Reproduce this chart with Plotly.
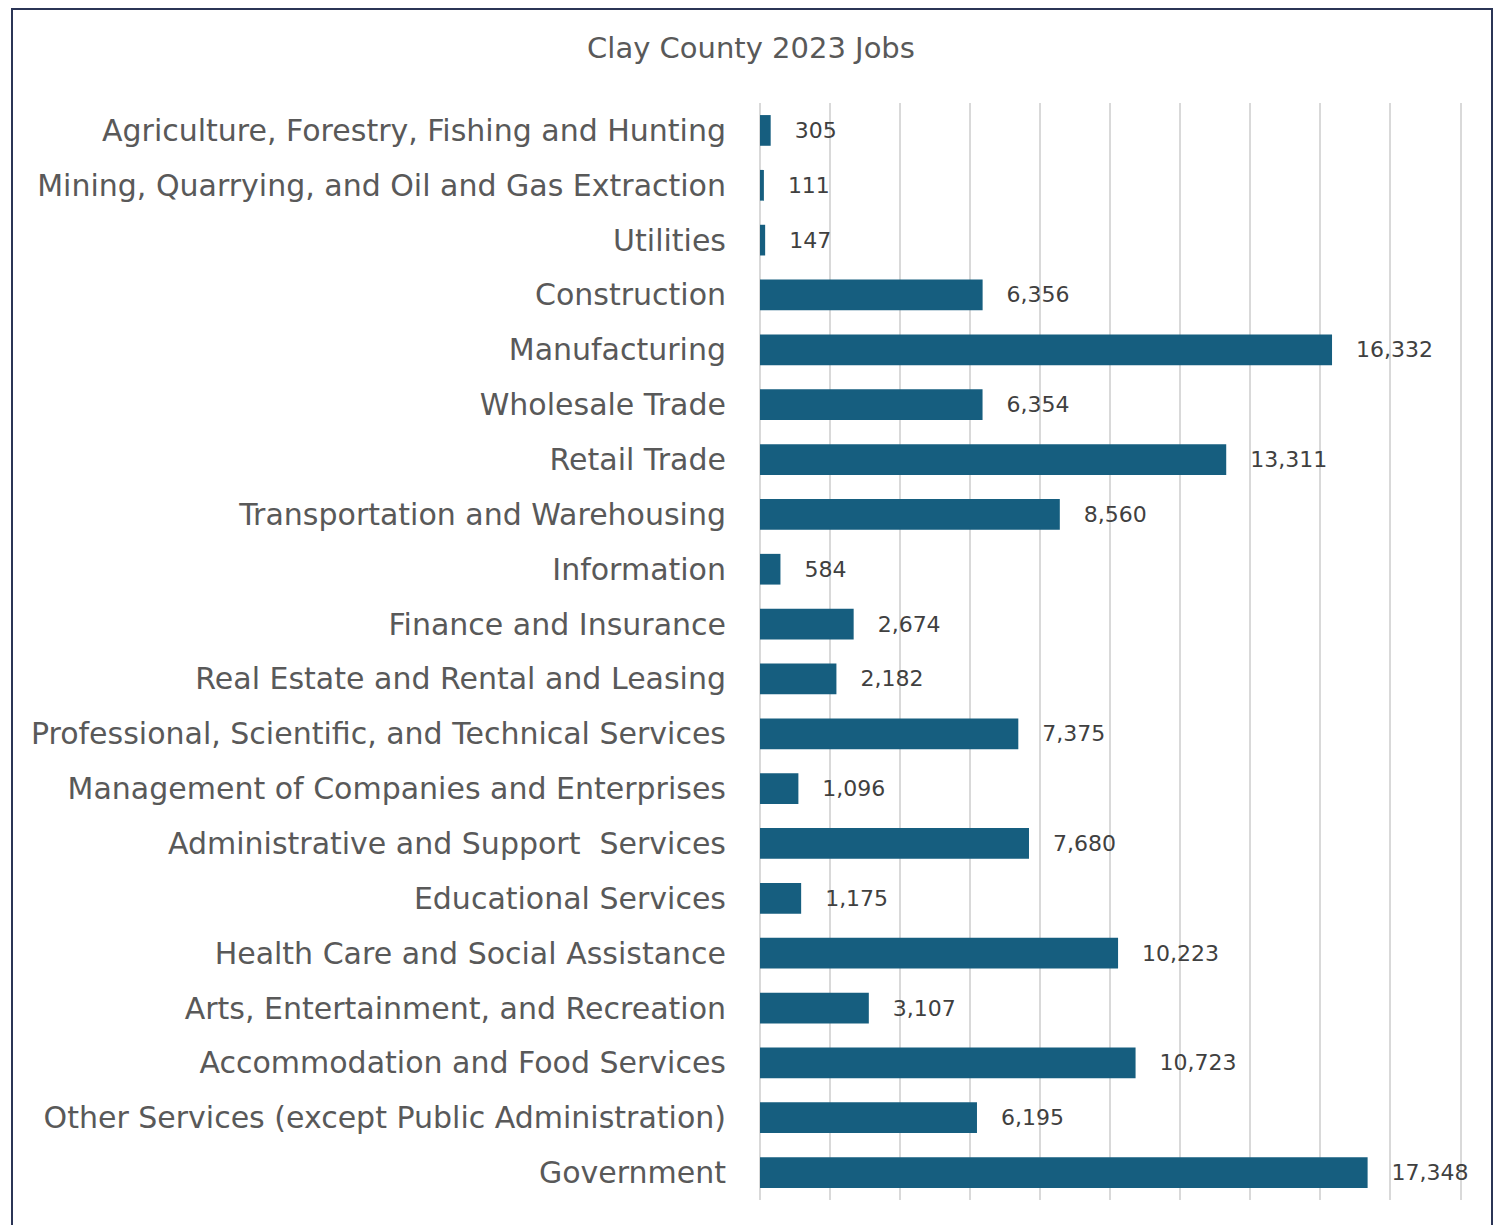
import plotly.graph_objects as go

industries = [
    "Agriculture, Forestry, Fishing and Hunting",
    "Mining, Quarrying, and Oil and Gas Extraction",
    "Utilities",
    "Construction",
    "Manufacturing",
    "Wholesale Trade",
    "Retail Trade",
    "Transportation and Warehousing",
    "Information",
    "Finance and Insurance",
    "Real Estate and Rental and Leasing",
    "Professional, Scientific, and Technical Services",
    "Management of Companies and Enterprises",
    "Administrative and Support  Services",
    "Educational Services",
    "Health Care and Social Assistance",
    "Arts, Entertainment, and Recreation",
    "Accommodation and Food Services",
    "Other Services (except Public Administration)",
    "Government",
]
jobs = [305, 111, 147, 6356, 16332, 6354, 13311, 8560, 584, 2674,
        2182, 7375, 1096, 7680, 1175, 10223, 3107, 10723, 6195, 17348]

# page has an 8px body margin, so figure coords = page coords - 8
OFF = 8
W, H = 1501 - OFF, 1225 - OFF
L, R, T, B = 760 - OFF, 37, 103 - OFF, 25
pw, ph = W - L - R, H - T - B


def px_to_paper(x, y):
    return (x - OFF - L) / pw, (H - B - (y - OFF)) / ph


fig = go.Figure(go.Bar(
    x=jobs, y=industries, orientation="h",
    marker=dict(color="#165E7F", line=dict(width=0)),
    texttemplate="\u00a0\u00a0\u00a0%{x:,}", textposition="outside",
    textfont=dict(size=22, color="#404040"),
    cliponaxis=False, width=0.56,
))

# outer frame around the whole chart (top edge clamped to the figure)
x0, y0 = px_to_paper(12, OFF + 1)
x1, y1 = px_to_paper(1492, 1240)
fig.add_shape(type="rect", xref="paper", yref="paper", x0=x0, y0=y1, x1=x1, y1=y0,
              line=dict(color="#2B3556", width=2), layer="below")

fig.update_layout(
    width=W, height=H,
    margin=dict(l=L, r=R, t=T, b=B),
    paper_bgcolor="white", plot_bgcolor="white",
    font=dict(family="DejaVu Sans, sans-serif", color="#595959"),
    title=dict(text="Clay County 2023 Jobs", x=(751 - OFF) / W, xref="container",
               xanchor="center", y=1 - (48 - OFF) / H, yref="container", yanchor="middle",
               font=dict(size=29, color="#595959")),
    showlegend=False,
    xaxis=dict(range=[0, 20100], dtick=2000, showticklabels=False,
               showgrid=True, gridcolor="#D9D9D9", gridwidth=1.5,
               zeroline=True, zerolinecolor="#D9D9D9", zerolinewidth=1.5,
               showline=False, fixedrange=True),
    yaxis=dict(autorange="reversed", tickfont=dict(size=30, color="#595959"),
               ticklabelstandoff=33, showgrid=False, showline=False, ticks=""),
)

fig.write_html("out.html")
